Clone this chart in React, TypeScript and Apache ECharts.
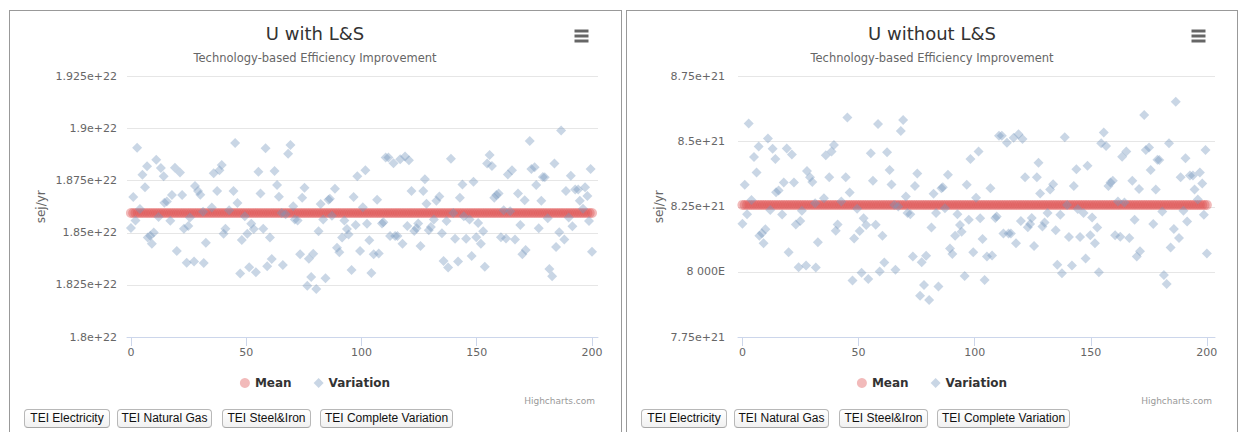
import React, { useEffect, useRef } from "react";
import * as echarts from "echarts";

// Run index of every sample (the "Mean" series has one point per run)
const runSteps = Array.from({ length: 201 }, (_, i) => i);
const xTicks = [0, 50, 100, 150, 200];

// Run position of each variation sample
const variationX = [
  0, 1.0, 2.0, 2.7, 3.9, 5.0, 6.1, 7.0, 7.3, 8.4, 9.1, 9.9, 11.0, 12.0, 13.0, 14.2, 14.5, 15.6, 17.1, 17.8,
  19.1, 19.9, 21.3, 22.2, 23.0, 24.2, 24.9, 25.6, 27.4, 27.8, 29.1, 30.1, 31.3, 31.6, 32.5,
  35.1, 35.9, 37.4, 38.4, 39.4, 40.2, 41.0, 42.6, 44.5, 45.2, 46.2, 47.4, 48.1, 49.4, 50.5, 51.3, 52.2, 53.3,
  54.2, 55.3, 56.2, 57.4, 58.4, 59.1, 60.3, 61.1, 62.3, 63.4, 64.2, 65.4, 65.9,
  67.1, 68.2, 69.2, 70.4, 71.1, 72.3, 73.4, 74.3, 75.3, 76.5, 77.2, 78.2, 79.1, 80.4, 81.4, 82.3, 83.4, 84.4,
  85.7, 86.3, 87.2, 88.5, 89.4, 90.4, 91.6, 92.6, 93.7, 94.4, 95.7, 96.6, 97.5, 98.2, 99.4,
  100.6, 101.7, 102.4, 103.4, 104.3, 105.3, 106.8, 107.5, 108.9, 109.5, 110.5, 111.7, 112.4, 113.9, 114.6,
  115.6, 116.8, 117.8, 118.9, 119.9, 120.6, 121.7, 122.9, 123.9, 124.6, 125.6, 126.8, 127.5, 128.2, 129.2,
  130.1, 131.4, 132.5,
  133.8, 134.9, 135.6, 136.9, 137.6, 138.8, 139.8, 140.6, 141.9, 142.7, 143.8, 144.4, 145.4, 146.9, 147.8,
  148.6, 149.8, 150.6, 151.8, 152.8, 153.5, 154.5, 155.6, 156.6, 157.6, 158.5, 159.5, 160.5, 161.7, 162.7,
  163.5, 164.5, 165.3,
  166.6, 167.9, 168.9, 169.8, 170.8, 171.2, 173.0, 173.7, 175.1, 175.8, 176.9, 178.0, 178.7, 179.5, 180.8,
  181.5, 182.7, 183.7, 184.4, 185.8, 186.6, 188.0, 188.7, 189.9, 190.8, 191.5, 192.7, 194.0, 194.7, 196.1,
  197.0, 198.0, 198.7, 199.4, 200.0,
];

// U with L&S, in units of 1e22 sej/yr
const withMean = 1.8595;
const withVariation = [
  1.8523, 1.8672, 1.8559, 1.8908, 1.8614, 1.8779, 1.8719, 1.8819, 1.8477, 1.8486, 1.8448, 1.8502, 1.885,
  1.8576, 1.8811, 1.8771, 1.8644, 1.865, 1.8558, 1.8681, 1.8812, 1.8413, 1.8789, 1.8681, 1.852, 1.8356,
  1.8533, 1.8573, 1.8362, 1.8725, 1.8701, 1.8683, 1.8601, 1.8355, 1.8452,
  1.8621, 1.8786, 1.8701, 1.88, 1.8825, 1.8496, 1.852, 1.8608, 1.8701, 1.8931, 1.8643, 1.8305, 1.8466,
  1.858, 1.8495, 1.8335, 1.8544, 1.8518, 1.8311, 1.8793, 1.8688, 1.8519, 1.8906, 1.8339, 1.8477, 1.8374,
  1.8797, 1.8729, 1.8673, 1.8595, 1.8346,
  1.8589, 1.8879, 1.8921, 1.8627, 1.8564, 1.8559, 1.8397, 1.8668, 1.8716, 1.8246, 1.8375, 1.8288, 1.84,
  1.823, 1.8508, 1.8638, 1.8564, 1.8282, 1.8659, 1.8663, 1.8582, 1.8711, 1.8428, 1.8407, 1.8477, 1.8559,
  1.8518, 1.8492, 1.8322, 1.8672, 1.8538, 1.8771, 1.8413,
  1.8623, 1.88, 1.8544, 1.8464, 1.8307, 1.8397, 1.8659, 1.8401, 1.8545, 1.8551, 1.8861, 1.8861, 1.8485,
  1.8834, 1.8485, 1.8485, 1.8853, 1.8448, 1.8866, 1.8533, 1.8848, 1.8701, 1.8509, 1.8522, 1.8545, 1.8437,
  1.8701, 1.8757, 1.8639, 1.8512, 1.8528, 1.8564, 1.8654,
  1.8674, 1.8498, 1.8365, 1.8557, 1.8333, 1.8855, 1.8595, 1.8472, 1.8362, 1.8668, 1.8732, 1.8579, 1.8472,
  1.8564, 1.8389, 1.8745, 1.8479, 1.8547, 1.8448, 1.8508, 1.8337, 1.8832, 1.8873, 1.8821, 1.8668, 1.8681,
  1.8688, 1.8479, 1.8608, 1.8473, 1.878, 1.8604, 1.88,
  1.8468, 1.8688, 1.8538, 1.8397, 1.8656, 1.8417, 1.894, 1.8806, 1.8815, 1.8729, 1.8522, 1.8654, 1.8768,
  1.8767, 1.857, 1.8326, 1.8291, 1.8832, 1.8432, 1.8503, 1.8991, 1.8468, 1.8701, 1.8573, 1.8774, 1.8531,
  1.8708, 1.8708, 1.8654, 1.8616, 1.8719, 1.8677, 1.8557, 1.8806, 1.8409,
];
const withTickLabels = ["1.8e+22", "1.825e+22", "1.85e+22", "1.875e+22", "1.9e+22", "1.925e+22"];

// U without L&S, in units of 1e21 sej/yr
const withoutMean = 8.257;
const withoutVariation = [
  8.185, 8.334, 8.221, 8.57, 8.276, 8.441, 8.381, 8.481, 8.139, 8.148, 8.11, 8.164, 8.512, 8.238, 8.473,
  8.433, 8.306, 8.312, 8.22, 8.343, 8.474, 8.075, 8.451, 8.343, 8.182, 8.018, 8.195, 8.235, 8.024, 8.387,
  8.363, 8.345, 8.263, 8.017, 8.114,
  8.283, 8.448, 8.363, 8.462, 8.487, 8.158, 8.182, 8.27, 8.363, 8.593, 8.305, 7.967, 8.128, 8.242, 8.157,
  7.997, 8.206, 8.18, 7.973, 8.455, 8.35, 8.181, 8.568, 8.001, 8.139, 8.036, 8.459, 8.391, 8.335, 8.257,
  8.008,
  8.251, 8.541, 8.583, 8.289, 8.226, 8.221, 8.059, 8.33, 8.378, 7.908, 8.037, 7.95, 8.062, 7.892, 8.17,
  8.3, 8.226, 7.944, 8.321, 8.325, 8.244, 8.373, 8.09, 8.069, 8.139, 8.221, 8.18, 8.154, 7.984, 8.334,
  8.2, 8.433, 8.075,
  8.285, 8.462, 8.206, 8.126, 7.969, 8.059, 8.321, 8.063, 8.207, 8.213, 8.523, 8.523, 8.147, 8.496, 8.147,
  8.147, 8.515, 8.11, 8.528, 8.195, 8.51, 8.363, 8.171, 8.184, 8.207, 8.099, 8.363, 8.419, 8.301, 8.174,
  8.19, 8.226, 8.316,
  8.336, 8.16, 8.027, 8.219, 7.995, 8.517, 8.257, 8.134, 8.024, 8.33, 8.394, 8.241, 8.134, 8.226, 8.051,
  8.407, 8.141, 8.209, 8.11, 8.17, 7.999, 8.494, 8.535, 8.483, 8.33, 8.343, 8.35, 8.141, 8.27, 8.135,
  8.442, 8.266, 8.462,
  8.13, 8.35, 8.2, 8.059, 8.318, 8.079, 8.602, 8.468, 8.477, 8.391, 8.184, 8.316, 8.43, 8.429, 8.232,
  7.988, 7.953, 8.494, 8.094, 8.165, 8.653, 8.13, 8.363, 8.235, 8.436, 8.193, 8.37, 8.37, 8.316, 8.278,
  8.381, 8.339, 8.219, 8.468, 8.071,
];
const withoutTickLabels = ["7.75e+21", "8 000E", "8.25e+21", "8.5e+21", "8.75e+21"];

const subtitle = "Technology-based Efficiency Improvement";
const buttonLabels = ["TEI Electricity", "TEI Natural Gas", "TEI Steel&Iron", "TEI Complete Variation"];

const FONT = '"DejaVu Sans", "Noto Sans", sans-serif';
const BUTTON_FONT = '"Liberation Sans", Arial, sans-serif';

type ChartProps = {
  title: string;
  mean: number;
  variation: number[];
  tickLabels: string[];
  yMin: number;
  yMax: number;
  yInterval: number;
  gridLeft: number;
  xMin: number;
  xMax: number;
  nameX: number;
  labelMargin: number;
};

function ScatterChart(p: ChartProps) {
  const ref = useRef<HTMLDivElement>(null);

  useEffect(() => {
    if (!ref.current) return;
    const chart = echarts.init(ref.current, undefined, { renderer: "svg" });
    const plotTop = 65.5;
    const plotBottom = 71;
    const height = 397;
    const width = 590;
    const iconX = width - 28.5;

    chart.setOption({
      animation: false,
      textStyle: { fontFamily: FONT },
      title: [
        {
          text: p.title,
          left: "center",
          top: 8,
          textStyle: { fontFamily: FONT, fontSize: 18, fontWeight: "normal", color: "#333333" },
        },
        {
          text: subtitle,
          left: "center",
          top: 36,
          textStyle: { fontFamily: FONT, fontSize: 11.5, fontWeight: "normal", color: "#666666" },
        },
        {
          text: "Highcharts.com",
          right: 10,
          top: 380,
          textStyle: { fontFamily: FONT, fontSize: 9, fontWeight: "normal", color: "#999999" },
        },
      ],
      legend: {
        left: "center",
        top: 361,
        itemGap: 22,
        itemWidth: 10,
        itemHeight: 10,
        textStyle: { fontFamily: FONT, fontSize: 12, fontWeight: "bold", color: "#333333" },
        data: [
          { name: "Mean", icon: "circle" },
          { name: "Variation", icon: "diamond" },
        ],
      },
      grid: { left: p.gridLeft, right: 12, top: plotTop, bottom: plotBottom },
      xAxis: {
        type: "value",
        min: p.xMin,
        max: p.xMax,
        splitLine: { show: false },
        axisLine: { show: true, lineStyle: { color: "#ccd6eb", width: 1 } },
        axisTick: { show: true, customValues: xTicks, length: 9, lineStyle: { color: "#ccd6eb" } },
        axisLabel: { customValues: xTicks, color: "#666666", fontSize: 11, margin: 10, fontFamily: FONT },
      },
      yAxis: {
        type: "value",
        min: p.yMin,
        max: p.yMax,
        interval: p.yInterval,
        axisLine: { show: false },
        axisTick: { show: false },
        splitLine: { lineStyle: { color: "#e6e6e6", width: 1 } },
        axisLabel: {
          color: "#666666",
          fontSize: 11,
          margin: p.labelMargin,
          fontFamily: FONT,
          formatter: (v: number) => p.tickLabels[Math.round((v - p.yMin) / p.yInterval)] ?? "",
        },
      },
      graphic: [
        {
          type: "text",
          x: p.nameX,
          y: plotTop + (height - plotTop - plotBottom) / 2,
          rotation: Math.PI / 2,
          style: {
            text: "sej/yr",
            fill: "#666666",
            fontSize: 12,
            fontFamily: FONT,
            align: "center",
            verticalAlign: "middle",
          },
        },
        ...[20, 25, 30].map((cy) => ({
          type: "rect",
          shape: { x: iconX - 7, y: cy - 1.5, width: 14, height: 3 },
          style: { fill: "#666666" },
        })),
      ],
      series: [
        {
          name: "Mean",
          type: "scatter",
          symbol: "circle",
          symbolSize: 10,
          itemStyle: { color: "rgba(223, 83, 83, 0.5)" },
          data: runSteps.map((i) => [i, p.mean]),
        },
        {
          name: "Variation",
          type: "scatter",
          symbol: "diamond",
          symbolSize: 10,
          itemStyle: { color: "rgba(119, 152, 191, 0.5)" },
          data: variationX.map((x, i) => [x, p.variation[i]]),
        },
      ],
    });

    return () => chart.dispose();
  }, [p]);

  return <div ref={ref} style={{ width: 590, height: 397 }} />;
}

const buttonLefts = [15, 108, 213, 311];
const buttonWidths = [86, 95, 89, 133];

function Panel(props: { left: number; width: number; chart: ChartProps }) {
  return (
    <>
      <div
        style={{
          position: "absolute",
          left: props.left,
          top: 10,
          width: props.width,
          height: 440,
          boxSizing: "border-box",
          border: "1px solid #999999",
        }}
      />
      <div style={{ position: "absolute", left: props.left + 11, top: 11 }}>
        <ScatterChart {...props.chart} />
      </div>
      {buttonLabels.map((label, i) => (
        <button
          key={label}
          style={{
            position: "absolute",
            left: props.left + buttonLefts[i],
            top: 409,
            width: buttonWidths[i],
            height: 19,
            padding: 0,
            boxSizing: "border-box",
            border: "1px solid #b8b8b8",
            borderBottomColor: "#a6a6a6",
            borderRadius: 4,
            background: "linear-gradient(#ffffff, #f1f1f1)",
            fontFamily: BUTTON_FONT,
            fontSize: 12,
            color: "#111111",
            lineHeight: "17px",
            whiteSpace: "nowrap",
          }}
        >
          {label}
        </button>
      ))}
    </>
  );
}

const withChart: ChartProps = {
  title: "U with L&S",
  mean: withMean,
  variation: withVariation,
  tickLabels: withTickLabels,
  yMin: 1.8,
  yMax: 1.925,
  yInterval: 0.025,
  gridLeft: 107,
  xMin: -1.7,
  xMax: 202.6,
  nameX: 21,
  labelMargin: 10,
};

const withoutChart: ChartProps = {
  title: "U without L&S",
  mean: withoutMean,
  variation: withoutVariation,
  tickLabels: withoutTickLabels,
  yMin: 7.75,
  yMax: 8.75,
  yInterval: 0.25,
  gridLeft: 101,
  xMin: -1.9,
  xMax: 203.5,
  nameX: 22,
  labelMargin: 13,
};

export default function App() {
  return (
    <div
      style={{
        position: "fixed",
        left: 0,
        top: 0,
        width: 1238,
        height: 432,
        overflow: "hidden",
        background: "#ffffff",
      }}
    >
      <Panel left={9} width={613} chart={withChart} />
      <Panel left={626} width={612} chart={withoutChart} />
    </div>
  );
}
